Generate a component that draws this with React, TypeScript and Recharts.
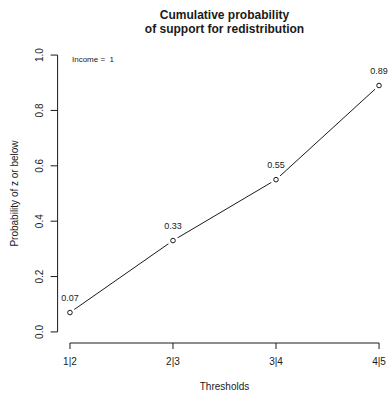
import React from "react";
import {
  LineChart,
  Line,
  XAxis,
  YAxis,
  ReferenceLine,
  ReferenceDot,
  LabelList,
} from "recharts";

const thresholds = ["1|2", "2|3", "3|4", "4|5"];
const probabilities = [0.07, 0.33, 0.55, 0.89];
const yTicks = [0, 0.2, 0.4, 0.6, 0.8, 1.0];
const xTicks = [1, 2, 3, 4];
const titleLines = ["Cumulative probability", "of support for redistribution"];
const legendText = "Income =\u00a0 1";
const xTitle = "Thresholds";
const yTitle = "Probability of z or below";

const data = thresholds.map((t, i) => ({ x: i + 1, label: t, value: probabilities[i] }));

const FONT = "'Liberation Sans', Arial, sans-serif";
const INK = "#1a1a1a";

const YTick = (props: any) => {
  const { x, y, payload } = props;
  return (
    <g transform={`translate(${x},${y})`}>
      <text
        transform="rotate(-90)"
        textAnchor="middle"
        dy={-6}
        fontSize={10}
        fontFamily={FONT}
        fill={INK}
      >
        {Number(payload.value).toFixed(1)}
      </text>
    </g>
  );
};

const Dot = (props: any) => {
  const { cx, cy } = props;
  if (cx == null || cy == null) return null;
  return (
    <g>
      <circle cx={cx} cy={cy} r={5.5} fill="#fff" stroke="none" />
      <circle cx={cx} cy={cy} r={2.3} fill="#fff" stroke={INK} strokeWidth={1} />
    </g>
  );
};

export default function App() {
  return (
    <div
      style={{
        position: "absolute",
        left: 0,
        top: 0,
        width: 388,
        height: 393,
        overflow: "hidden",
        background: "#fff",
        fontFamily: FONT,
      }}
    >
      <div
        style={{
          position: "absolute",
          left: 57.6,
          width: 333.8,
          top: 8,
          textAlign: "center",
          fontWeight: "bold",
          fontSize: 12,
          lineHeight: "14px",
          color: INK,
        }}
      >
        {titleLines.map((l) => (
          <div key={l}>{l}</div>
        ))}
      </div>
      <LineChart
        width={400}
        height={393}
        data={data}
        margin={{ top: 44, right: 8.6, left: 0, bottom: 0 }}
      >
        <XAxis
          dataKey="x"
          type="number"
          domain={[0.88, 4.12]}
          ticks={xTicks}
          tickFormatter={(v: number) => thresholds[v - 1]}
          axisLine={false}
          tickLine={{ stroke: INK }}
          tickSize={6}
          tickMargin={9}
          height={50}
          interval={0}
          tick={{ fontSize: 10, fontFamily: FONT, fill: INK }}
          label={{
            value: xTitle,
            position: "insideBottom",
            offset: 3,
            fontSize: 10,
            fontFamily: FONT,
            fill: INK,
          }}
        />
        <YAxis
          type="number"
          domain={[-0.04, 1.04]}
          ticks={yTicks}
          axisLine={false}
          tickLine={{ stroke: INK }}
          tickSize={7}
          width={57.6}
          interval={0}
          tick={<YTick />}
          label={{
            value: yTitle,
            angle: -90,
            position: "insideLeft",
            offset: 14,
            fontSize: 10,
            fontFamily: FONT,
            fill: INK,
            style: { textAnchor: "middle" },
          }}
        />
        <ReferenceLine
          segment={[
            { x: 1, y: -0.04 },
            { x: 4, y: -0.04 },
          ]}
          stroke={INK}
          ifOverflow="visible"
        />
        <ReferenceLine
          segment={[
            { x: 0.88, y: 0 },
            { x: 0.88, y: 1 },
          ]}
          stroke={INK}
          ifOverflow="visible"
        />
        <ReferenceDot
          x={1}
          y={1}
          r={0}
          stroke="none"
          fill="none"
          ifOverflow="visible"
          label={{
            value: legendText,
            position: "right",
            offset: 2,
            dy: 4,
            fontSize: 8,
            fontFamily: FONT,
            fill: INK,
          }}
        />
        <Line
          dataKey="value"
          stroke={INK}
          strokeWidth={1}
          dot={<Dot />}
          activeDot={false}
          isAnimationActive={false}
        >
          <LabelList
            dataKey="value"
            position="top"
            offset={12}
            formatter={(v: any) => Number(v).toFixed(2)}
            style={{ fontSize: 9, fontFamily: FONT, fill: INK }}
          />
        </Line>
      </LineChart>
    </div>
  );
}
